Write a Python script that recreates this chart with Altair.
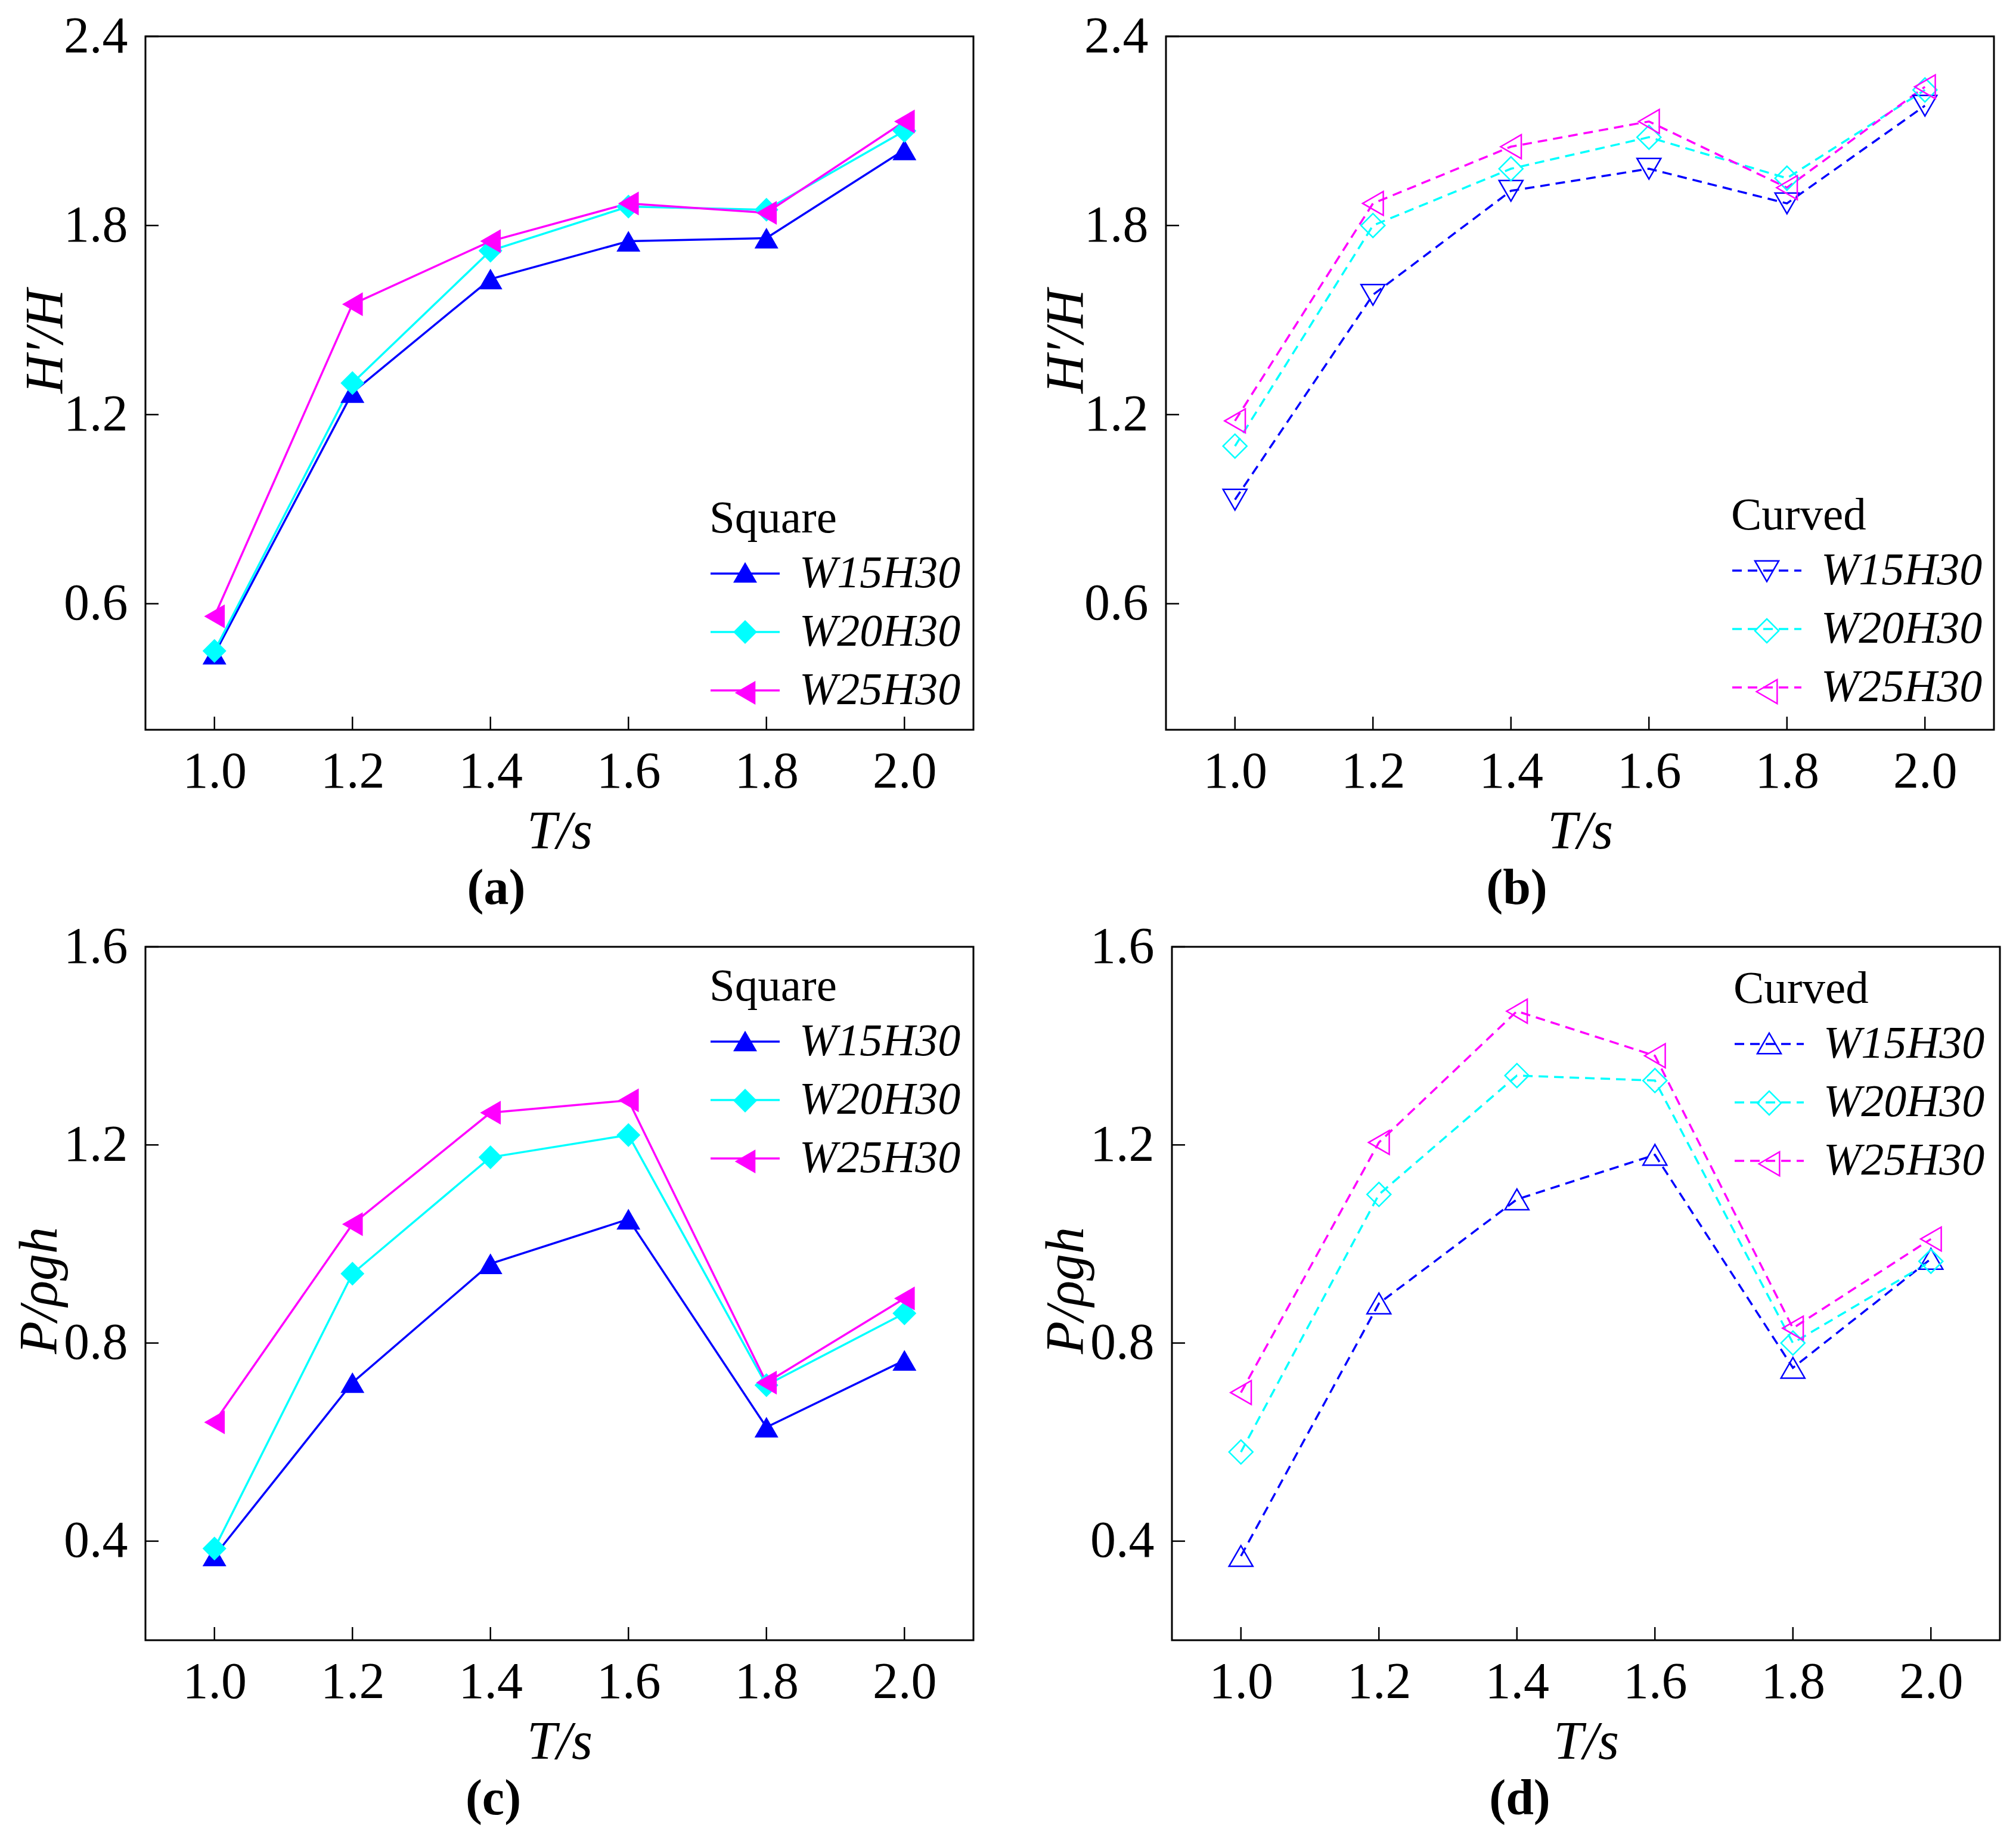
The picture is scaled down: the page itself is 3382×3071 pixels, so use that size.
import altair as alt
import pandas as pd

# x values (wave period T/s) and series names
periods = [1.0, 1.2, 1.4, 1.6, 1.8, 2.0]
series = ["W15H30", "W20H30", "W25H30"]
colors = ["#0000ff", "#00ffff", "#ff00ff"]

# (a) square, H'/H
a_w15 = [0.44, 1.27, 1.63, 1.75, 1.76, 2.04]
a_w20 = [0.45, 1.30, 1.72, 1.86, 1.85, 2.10]
a_w25 = [0.56, 1.55, 1.75, 1.87, 1.84, 2.13]
# (b) curved, H'/H
b_w15 = [0.93, 1.58, 1.91, 1.98, 1.87, 2.18]
b_w20 = [1.10, 1.80, 1.98, 2.08, 1.95, 2.23]
b_w25 = [1.18, 1.87, 2.05, 2.13, 1.92, 2.24]
# (c) square, P/rho g h
c_w15 = [0.37, 0.72, 0.96, 1.05, 0.63, 0.765]
c_w20 = [0.385, 0.94, 1.175, 1.22, 0.715, 0.86]
c_w25 = [0.64, 1.04, 1.265, 1.29, 0.72, 0.89]
# (d) curved, P/rho g h
d_w15 = [0.37, 0.88, 1.09, 1.18, 0.75, 0.97]
d_w20 = [0.58, 1.10, 1.34, 1.33, 0.80, 0.965]
d_w25 = [0.70, 1.205, 1.47, 1.38, 0.83, 1.01]

x_ticks = [1.0, 1.2, 1.4, 1.6, 1.8, 2.0]
y_ticks_top = [0.6, 1.2, 1.8, 2.4]
y_ticks_bottom = [0.4, 0.8, 1.2, 1.6]

FONT = "Liberation Serif"
W, H = 1389, 1163
LINE_LEN = 116
PT_SIZE = 1600


def panel(vals, ydom, yticks, ytitle, leg_title, dashed, shapes, filled,
          caption, ttx, tty, lx, ly, row1):
    df = pd.DataFrame({
        "T": periods * 3,
        "V": vals[0] + vals[1] + vals[2],
        "series": [s for s in series for _ in periods],
        "key": [s + " " for s in series for _ in periods],
    })
    xs = alt.Scale(domain=[0.9, 2.1], nice=False, zero=False)
    ys = alt.Scale(domain=ydom, nice=False, zero=False)
    xax = alt.Axis(values=x_ticks, format=".1f", domain=False, ticks=False, tickSize=0,
                   grid=False, labelFont=FONT, labelFontSize=86, labelColor="black",
                   labelPadding=28, labelFlush=False, labelOverlap=False,
                   titleFont=FONT, titleFontSize=90, titleFontStyle="italic",
                   titleFontWeight="normal", titleColor="black", titlePadding=14)
    yax = alt.Axis(values=yticks, format=".1f", domain=False, ticks=False, tickSize=0,
                   grid=False, labelFont=FONT, labelFontSize=86, labelColor="black",
                   labelPadding=30, labelFlush=False, labelOverlap=False,
                   titleFont=FONT, titleFontSize=90, titleFontStyle="italic",
                   titleFontWeight="normal", titleColor="black",
                   titleAngle=270, titleBaseline="alphabetic", titleAlign="center",
                   titleX=ttx, titleY=tty)
    x = alt.X("T:Q", scale=xs, title="T/s", axis=xax)
    y = alt.Y("V:Q", scale=ys, title=ytitle, axis=yax)

    dash_kw = {"strokeDash": [16, 10]} if dashed else {}
    # legend with line samples, title and labels
    leg_line = alt.Legend(orient="none", legendX=lx, legendY=ly, padding=0,
                          title=leg_title, titleFont=FONT, titleFontSize=77,
                          titleFontWeight="normal", titleColor="black", titlePadding=-7,
                          titleLimit=2000, labelFont=FONT, labelFontSize=76,
                          labelFontStyle="italic", labelColor="black", labelLimit=2000,
                          labelOffset=31, rowPadding=0,
                          symbolType="stroke", symbolSize=LINE_LEN ** 2,
                          symbolStrokeWidth=3.5, **({"symbolDash": [16, 10]} if dashed else {}))
    # legend with the markers only, laid on top of the line samples
    leg_pts = alt.Legend(orient="none", legendX=lx + LINE_LEN / 2 - 20, legendY=row1 - 22,
                         padding=0, title=None, labelFont=FONT, labelFontSize=44,
                         labelExpr="''", labelOpacity=0, rowPadding=52,
                         symbolSize=PT_SIZE, symbolStrokeWidth=2.5, symbolOpacity=1)

    lines = alt.Chart(df).mark_line(strokeWidth=3.5, **dash_kw).encode(
        x=x, y=y,
        stroke=alt.Stroke("key:N", scale=alt.Scale(domain=[s + " " for s in series],
                                                   range=colors),
                          legend=leg_line),
    )
    pts = alt.Chart(df).mark_point(filled=filled, size=PT_SIZE, opacity=1,
                                   strokeWidth=2.5).encode(
        x=x, y=y,
        color=alt.Color("series:N", scale=alt.Scale(domain=series, range=colors),
                        legend=leg_pts),
        shape=alt.Shape("series:N", scale=alt.Scale(domain=series, range=shapes),
                        legend=leg_pts),
    )
    xt = alt.Chart(pd.DataFrame({"T": x_ticks})).mark_rule(color="black", strokeWidth=2.5).encode(
        x=alt.X("T:Q", scale=xs, title="T/s", axis=xax), y=alt.value(H), y2=alt.value(H - 22))
    yt = alt.Chart(pd.DataFrame({"V": yticks})).mark_rule(color="black", strokeWidth=2.5).encode(
        y=alt.Y("V:Q", scale=ys, title=ytitle, axis=yax), x=alt.value(0), x2=alt.value(22))

    return alt.layer(lines, pts, xt, yt).properties(
        width=W, height=H,
        title=alt.TitleParams(caption, orient="bottom", anchor="middle", frame="bounds",
                              font=FONT, fontSize=84, fontWeight="bold", color="black",
                              offset=10),
    )


pa = panel([a_w15, a_w20, a_w25], [0.2, 2.4], y_ticks_top, "H\u2032/H", "Square", False,
           ["triangle-up", "diamond", "triangle-left"], True, "(a)", -140, 511, 946, 771, 899)
pb = panel([b_w15, b_w20, b_w25], [0.2, 2.4], y_ticks_top, "H\u2032/H", "Curved", True,
           ["triangle-down", "diamond", "triangle-left"], False, "(b)", -140, 511, 948, 766, 897)
pc = panel([c_w15, c_w20, c_w25], [0.2, 1.6], y_ticks_bottom, "P/\u03c1gh", "Square", False,
           ["triangle-up", "diamond", "triangle-left"], True, "(c)", -150, 576, 946, 29, 158)
pd_ = panel([d_w15, d_w20, d_w25], [0.2, 1.6], y_ticks_bottom, "P/\u03c1gh", "Curved", True,
            ["triangle-up", "diamond", "triangle-left"], False, "(d)", -150, 576, 942, 33, 162)

res = dict(x="independent", y="independent", color="independent",
           stroke="independent", shape="independent")
leg = dict(color="independent", stroke="independent", shape="independent")

top = alt.hconcat(pa, pb, spacing=107).resolve_scale(**res).resolve_legend(**leg)
bottom = alt.hconcat(pc, pd_, spacing=107).resolve_scale(**res).resolve_legend(**leg)

chart = alt.vconcat(top, bottom, spacing=8).resolve_scale(**res).resolve_legend(**leg).properties(
    padding={"left": 12, "top": 8, "right": 0, "bottom": 0}
).configure(font=FONT).configure_view(stroke="black", strokeWidth=3)

chart.save("out.html", embed_options={"renderer": "svg", "actions": False})
